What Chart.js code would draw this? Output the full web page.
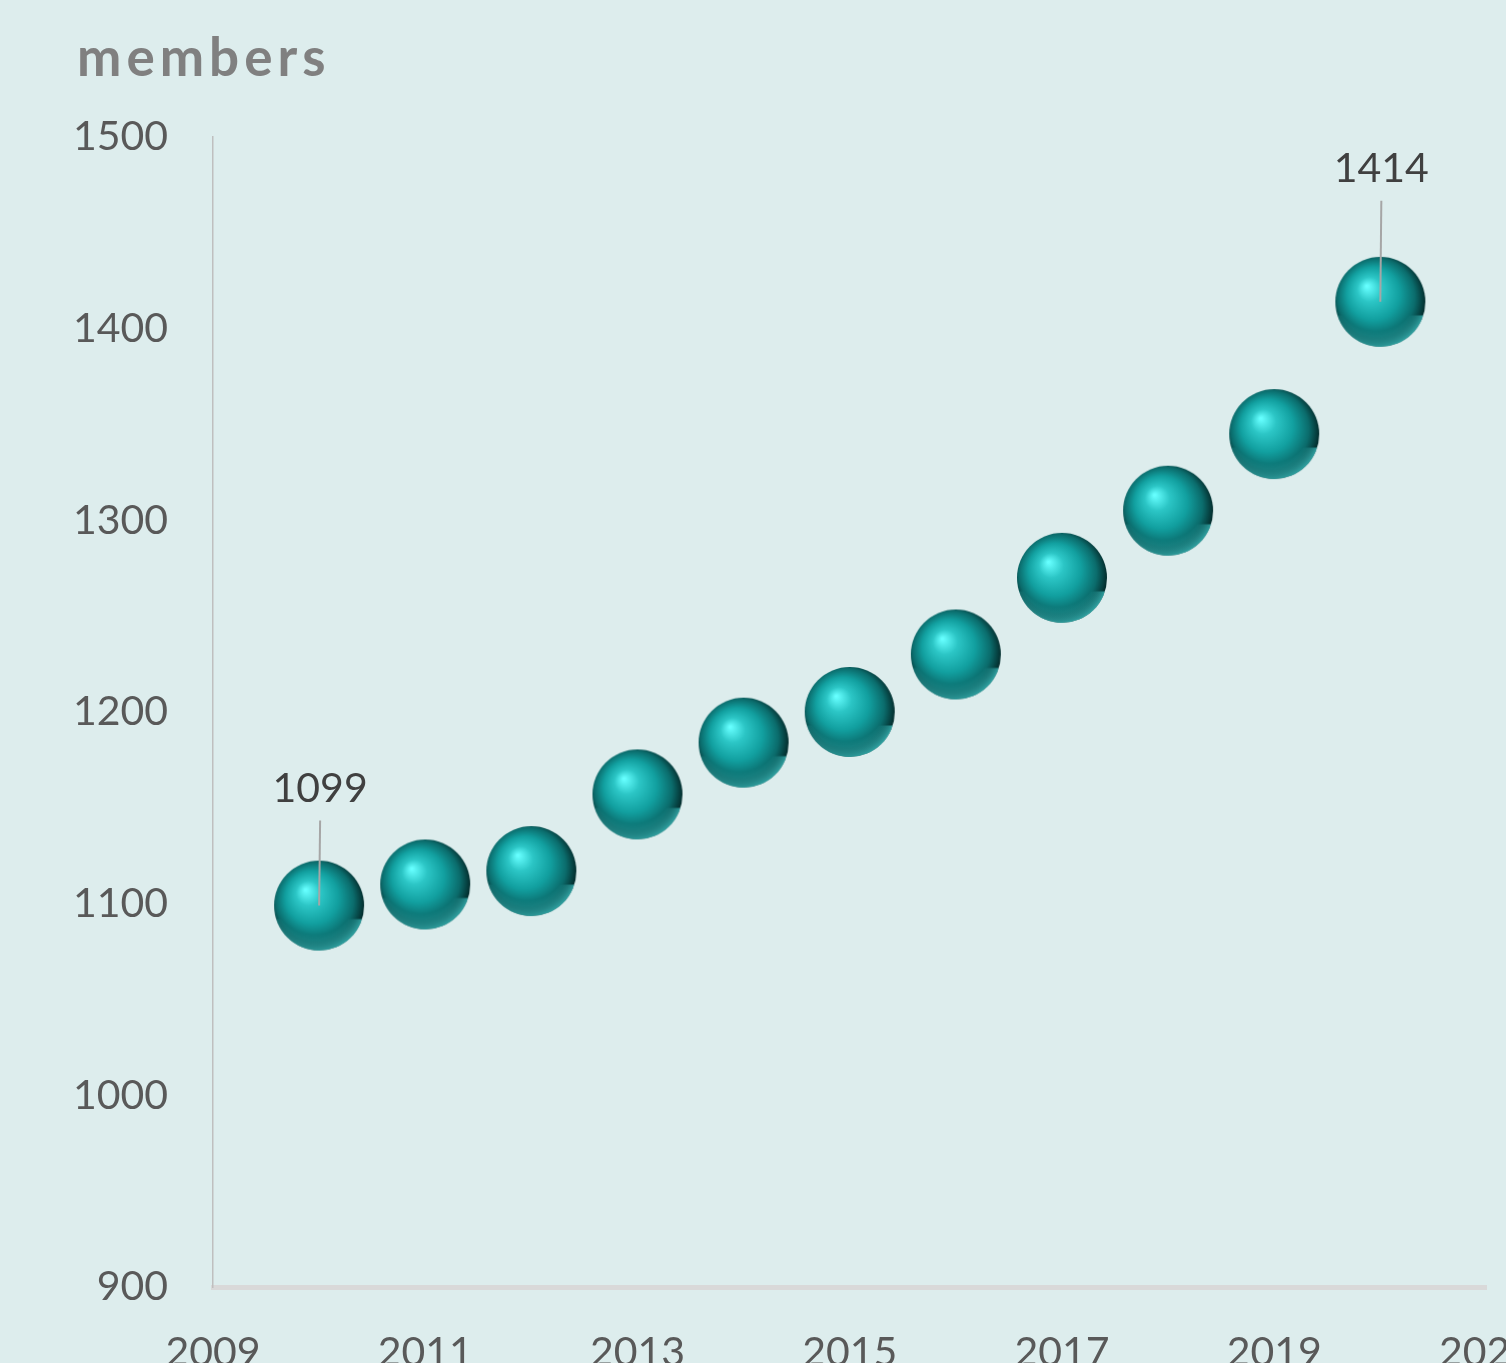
<!DOCTYPE html>
<html>
<head>
<meta charset="utf-8">
<script src="https://cdn.jsdelivr.net/npm/chart.js@4.4.0/dist/chart.umd.min.js"></script>
<style>
  html, body { margin: 0; padding: 0; background: #ddeded; overflow: hidden; }
  #wrap { width: 1506px; height: 1363px; overflow: hidden; }
  #wrap div { width: 1567px; height: 1407px; }
</style>
</head>
<body>
<div id="wrap"><div><canvas id="members"></canvas></div></div>
<script>
const years = [2010, 2011, 2012, 2013, 2014, 2015, 2016, 2017, 2018, 2019, 2020];
const members = [1099, 1110, 1117, 1157, 1184, 1200, 1230, 1270, 1305, 1345, 1414];
const labelledYears = [2010, 2020];
const leaderLength = [85, 101];

function makeSphere(r){
    let c = document.createElement('canvas');
    c.width = r * 2 + 2;
    c.height = r * 2 + 2;
    let ctx = c.getContext('2d');
    let cx = r + 1, cy = r + 1;
    // base shading
    let g = ctx.createRadialGradient(cx - r * 0.3, cy - r * 0.35, r * 0.02, cx - r * 0.05, cy - r * 0.05, r * 1.05);
    g.addColorStop(0, '#66ffff');
    g.addColorStop(0.25, '#2cc6c6');
    g.addColorStop(0.55, '#12a0a0');
    g.addColorStop(0.82, '#0b6c6c');
    g.addColorStop(1, '#042e2e');
    ctx.beginPath();
    ctx.arc(cx, cy, r, 0, Math.PI * 2);
    ctx.fillStyle = g;
    ctx.fill();
    // light rim at the bottom
    let g2 = ctx.createRadialGradient(cx - r * 0.1, cy - r * 0.3, r * 0.95, cx - r * 0.1, cy - r * 0.1, r * 1.15);
    g2.addColorStop(0, 'rgba(60,200,200,0)');
    g2.addColorStop(1, 'rgba(70,220,220,0.7)');
    ctx.save();
    ctx.beginPath();
    ctx.arc(cx, cy, r, 0, Math.PI * 2);
    ctx.clip();
    ctx.fillStyle = g2;
    ctx.fillRect(0, cy + r * 0.3, c.width, r);
    ctx.restore();
    return c;
}

const sphere = makeSphere(45);

const titlePlugin = {
    id: 'titleText',
    afterDraw(chart){
        let ctx = chart.ctx;
        ctx.save();
        ctx.font = 'bold 53px Lato';
        ctx.letterSpacing = '5px';
        ctx.fillStyle = '#808080';
        ctx.textBaseline = 'alphabetic';
        ctx.fillText('members', 77, 76);
        ctx.restore();
    }
};

const leaderPlugin = {
    id: 'leaders',
    afterDatasetsDraw(chart){
        let ctx = chart.ctx;
        let xs = chart.scales.x, ys = chart.scales.y;
        ctx.save();
        for(let i = 0; i < years.length; i++){
            let k = labelledYears.indexOf(years[i]);
            if(k < 0) continue;
            let px = xs.getPixelForValue(years[i]);
            let py = ys.getPixelForValue(members[i]);
            let top = py - leaderLength[k];
            ctx.strokeStyle = '#a6a6a6';
            ctx.lineWidth = 2;
            ctx.beginPath();
            ctx.moveTo(px, py);
            ctx.lineTo(px + 1, top);
            ctx.stroke();
            ctx.font = '41px Lato';
            ctx.fillStyle = '#404040';
            ctx.textAlign = 'center';
            ctx.textBaseline = 'middle';
            ctx.fillText(String(members[i]), px + 1, top - 32);
        }
        ctx.restore();
    }
};

let points = [];
for(let i = 0; i < years.length; i++)
    points.push({x: years[i], y: members[i]});

const data = {
  datasets: [{
    label: 'members',
    data: points,
    pointStyle: sphere,
    pointRadius: 45,
    pointHoverRadius: 45,
    showLine: false
  }]
};

const config = {
  type: 'scatter',
  data: data,
  options: {
    responsive: true,
    maintainAspectRatio: false,
    animation: false,
    layout: { padding: { top: 137, left: 0, right: 50, bottom: 0 } },
    plugins: { legend: { display: false }, tooltip: { enabled: false } },
    scales: {
      x: {
        type: 'linear',
        min: 2009,
        max: 2021,
        grid: { display: false },
        border: { display: true, color: '#d9d9d9', width: 5 },
        ticks: { stepSize: 2, padding: 33, color: '#595959', font: { family: 'Lato', size: 41 },
                 callback: v => String(v) },
        afterFit: s => { s.height = 120; }
      },
      y: {
        min: 900,
        max: 1500,
        grid: { display: false },
        border: { display: true, color: '#bfbfbf', width: 1.5 },
        ticks: { stepSize: 100, padding: 37, color: '#595959', font: { family: 'Lato', size: 41 },
                 callback: v => String(v) },
        afterFit: s => { s.width = 213; }
      }
    }
  },
  plugins: [titlePlugin, leaderPlugin]
};

let c = document.getElementById('members').getContext('2d');
new Chart(c, config);
</script>
</body>
</html>
